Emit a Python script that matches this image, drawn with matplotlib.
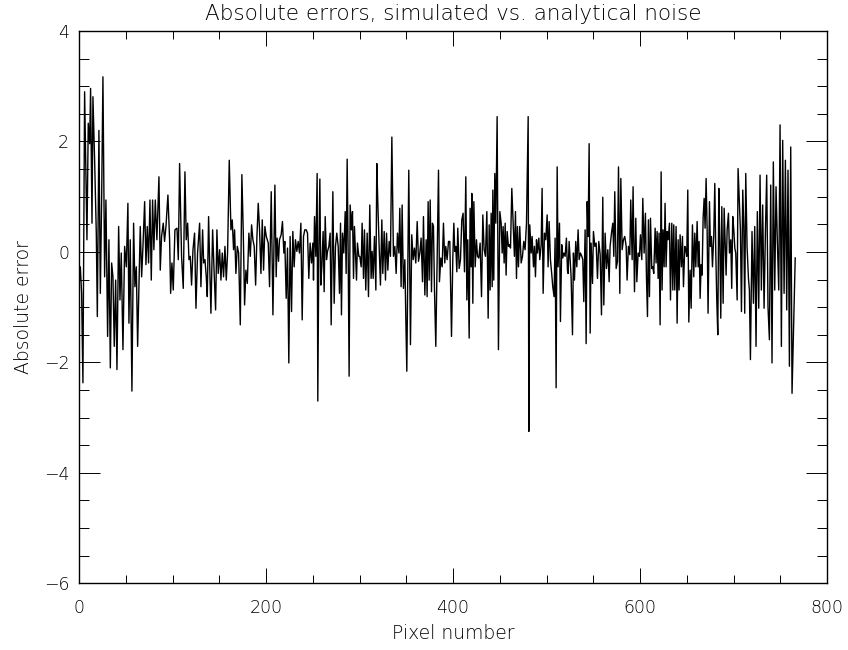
import matplotlib
matplotlib.use("Agg")
import matplotlib.pyplot as plt
from matplotlib.ticker import MultipleLocator

plt.rcParams["font.family"] = ["DejaVu Sans"]
plt.rcParams["font.weight"] = "light"

title = "Absolute errors, simulated vs. analytical noise"
xlabel = "Pixel number"
ylabel = "Absolute error"
xticks = [0, 200, 400, 600, 800]
yticks = [-6, -4, -2, 0, 2, 4]

pixel = [
    0, 1.4, 2.8, 4.2, 6, 8.5, 9.9, 11.4, 12.4, 13.9, 14.9, 16.7, 18.5, 19.6, 21.3, 22.8, 24.2, 25.6,
    27.4, 28.8, 30.6, 32, 33.5, 34.9, 36.3, 37.7, 39.2, 40.6, 42.4, 43.8, 45.2, 47, 48.8, 50.6, 52.3,
    53.4, 54.8, 56.6, 58.4, 59.8, 61.3, 62.7, 64.1, 65.5, 67, 68.4, 70.2, 71.6, 73, 74.4, 75.9, 77.3,
    78.7, 80.1, 81.6, 83.3, 85.5, 86.9, 88.3, 90.1, 91.5, 93, 95.1, 96.9, 98, 99.4, 100.8, 102.6,
    104.8, 106.2, 107.6, 109.7, 111.5, 113.3, 114.7, 116.2, 117.6, 119.0, 120.4, 121.9, 123.6, 125.1,
    126.8, 129.0, 130.4, 132.2, 133.3, 134.7, 136.1, 137.2, 138.6, 140.0, 141.1, 142.9, 144.7, 146.1,
    147.5, 148.9, 150.4, 151.8, 153.2, 154.6, 156.1, 157.5, 158.9, 160.7, 162.5, 163.9, 165.3, 166.4,
    167.8, 169.3, 170.7, 172.5, 174.2, 175.7, 177.1, 178.5, 180.0, 181.7, 183.2, 184.6, 186.0, 187.4,
    188.9, 190.3, 191.7, 193.1, 194.6, 196.0, 197.4, 198.8, 200.3, 202.4, 203.8, 205.6, 207.4,
    209.5, 210.9, 211.9, 213.4, 214.4, 216.2, 217.6, 219.1, 220.1, 221.6, 223.0, 224.4, 225.8, 227.3,
    228.7, 230.1, 231.5, 233.0, 234.4, 235.8, 237.3, 238.7, 240.1, 241.5, 243.0, 244.4, 245.8, 247.2,
    248.7, 250.1, 250.8, 251.9, 253.3, 254.7, 255.4, 256.5, 257.6, 258.6, 259.7, 261.1, 262.2, 263.3,
    264.7, 265.8, 267.2, 268.6, 269.7, 271.5, 272.9, 274.3, 275.7, 277.2, 278.6, 279.7, 280.7, 281.8,
    283.2, 284.7, 285.7, 286.8, 287.9, 288.9, 290.0, 291.4, 292.5, 293.6, 294.6, 295.7, 296.8, 297.8,
    299.3, 300.3, 301.8, 302.8, 304.3, 305.3, 306.7, 308.2, 309.6, 311.0, 312.4,
    313.5, 314.6, 316.0, 317.5, 318.5, 319.6, 321.0, 322.4, 323.9, 324.9, 326.4, 327.8, 328.9, 330.3,
    331.7, 333.1, 334.6, 336.3, 337.8, 339.2, 340.6, 342.1, 343.1, 344.5, 345.6, 347.0, 348.5, 349.5,
    350.6, 352.7, 354.5, 355.9, 357.4, 358.8, 360.2, 361.7, 363.1, 364.5, 365.9, 367.4, 368.4, 369.9,
    371.3, 372.3, 373.4, 374.5, 375.6, 377.0, 378.0, 379.1, 380.2, 381.6, 383.4, 384.5, 385.5, 387.0,
    388.4, 389.8, 391.2, 392.3, 393.7, 395.2, 396.6, 398.4, 399.8, 400.9, 401.9, 403.0, 404.1, 405.1,
    406.6, 408.0, 409.4, 410.8, 412.3, 413.7, 414.8, 415.8, 417.3,
    418.3, 419.4, 420.1, 421.2, 422.3, 423.7, 425.1, 426.2, 427.6, 429.0, 430.5, 431.9, 433.3, 434.7,
    436.2, 437.6, 438.7, 439.7, 440.8, 441.9, 442.6, 443.6, 444.7, 445.8, 447.2, 448.6, 450.1, 451.5,
    452.6, 453.6, 454.7, 455.8, 456.8, 457.9, 459.3, 460.4, 461.5, 462.9, 464.3, 465.7, 466.8, 467.9,
    468.9, 470.0, 471.4, 472.9, 474.3, 475.7, 477.1, 478.6, 480.4, 481.1, 482.1, 483.6, 484.6, 486.1,
    487.1, 488.2, 489.3, 490.3, 491.8, 492.8, 494.3, 495.3, 496.4, 497.8, 499.2, 500.7, 501.7, 502.8,
    504.2, 505.7, 506.7, 508.1, 509.2, 510.3, 511.4, 512.4, 513.9, 514.9, 516.3, 517.4, 518.5, 519.9,
    521.3, 522.4,
    523.1, 524.2, 525.3, 526.3, 527.8, 528.8, 529.9, 531.3, 532.4, 533.8, 534.9, 536.3, 537.8, 538.8,
    539.9, 541.3, 542.4, 543.5, 544.5, 545.6, 546.7, 547.7, 549.2, 550.2, 551.7, 553.1, 554.5, 555.9,
    557.4, 558.8, 560.2, 561.3, 562.7, 564.1, 565.6, 567.0, 568.0, 569.5, 570.9, 572.0, 573.0, 574.5,
    575.9, 577.0, 578.4, 579.5, 580.9, 582.3, 583.7, 585.2, 586.2, 587.6, 589.1, 590.1, 591.6, 592.6,
    594.1, 595.5, 596.6, 598.0, 599.4, 600.5, 601.9, 603.0, 604.4, 605.8, 606.9, 608.0, 609.0, 610.1,
    611.2, 612.6, 613.7, 614.7, 616.2, 617.2, 618.3, 619.4, 620.4, 621.5, 622.6, 623.6, 624.7, 625.8,
    626.8,
    627.9, 629.0, 630.1, 631.5, 632.6, 634.0, 635.1, 636.1, 637.2, 638.6, 639.7, 640.8, 641.8, 642.9,
    644.3, 645.4, 646.5, 647.9, 649.0, 650.0, 651.1, 652.2, 653.6, 654.7, 656.1, 657.5, 658.6, 659.7,
    661.1, 662.2, 663.2, 664.3, 665.4, 666.4, 667.5, 668.6, 669.6, 670.7, 671.8, 672.8, 674.3, 675.3,
    676.4, 677.5, 678.9, 680.0, 681.0, 682.1, 683.2, 684.3, 685.3, 686.4, 687.5, 688.9, 690.0, 691.0,
    692.1, 693.2, 694.6, 695.7, 697.1, 698.1, 699.2, 700.3, 701.4, 702.4, 703.9, 704.9, 706.3, 707.4,
    708.5, 709.9, 711.0, 712.0, 713.1, 714.5, 716.0, 717.0, 718.1,
    719.8, 721.3, 722.7, 724.1, 725.5, 727.0, 728.4, 729.8, 731.2, 732.7, 734.1, 735.5, 736.9, 738.4,
    739.8, 741.2, 742.6, 744.1, 745.5, 746.9, 748.4, 749.8, 751.2, 752.6, 754.1, 755.5, 756.9, 758.3,
    759.8, 761.2, 762.6, 766.0,
]

abs_error = [
    -0.63, -0.27, -0.75, -2.37, 2.90, 0.22, 2.33, 1.96, 2.96, 0.52, 2.81, 1.66, 0.34, -1.17, 2.20, -0.75, 0.94, 3.17,
    -0.45, 0.94, -1.53, 0.22, -2.10, -0.20, -0.45, -1.71, -0.51, -2.13, 0.46, -0.87, -0.02, -1.77, 0.10, -0.27, 0.88,
    -1.29, 0.22, -2.52, 0.52, -0.63, -0.27, -1.71, -0.63, 0.46, -0.45, 0.10, 0.91, -0.23, 0.46, -0.20, 0.94, -0.51,
    0.94, 0.04, 0.94, 0.22, 1.36, -0.33, 0.28, 0.52, 0.19, 0.46, 1.03, 0.22, -0.75, -0.20, -0.69, 0.40,
    0.43, -0.14, 1.60, -0.08, -0.66, 1.45, 0.22, 0.52, -0.14, -0.08, -0.60, 0.04, 0.34, -1.02,
    -0.02, 0.52, -0.63, 0.40, -0.20, -0.14, -0.45, -0.81, 0.64, -0.39, -1.11, 0.40, -0.45, -1.05,
    0.40, -0.39, 0.04, -0.51, -0.02, -0.45, 0.10, -0.51, -0.02, 1.66, 0.40, 0.58, 0.04, 0.40,
    -0.39, 0.10, -0.02, -1.32, 1.40, 0.34, -0.96, -0.33, -0.57, 0.34, -0.08, 0.49, 0.22, 0.10,
    -0.60, 0.28, 0.88, 0.40, -0.39, 0.58, -0.33, 0.46, 0.28, 0.16, -0.63, 1.09, -1.14,
    1.21, -0.45, 0.25, -0.17, 0.22, 0.31, 0.55, -0.02, 0.19, -0.84, 0.07, -2.01, 0.28, -1.08,
    0.37, -0.27, 0.22, 0.01, 0.19, -0.02, 0.52, -1.23, 0.28, 0.40, 0.40, 0.34, -0.48, 0.16,
    -0.20, 0.16, -0.51, 0.64, -0.08, 1.42, -2.70, 0.01, 1.32, -0.60, -0.27, 0.37, -0.72, 0.64,
    -0.14, 0.01, 0.10, 0.34, -1.32, 1.09, -0.93, 0.10, 0.34, 0.10, -0.75, 0.52, -1.14, 0.34,
    -0.02, 0.73, -0.39, 1.68, -0.08, -2.25, 0.85, 0.40, 0.73, -0.48, 0.46, -0.05, -0.51, 0.16,
    -0.08, -0.08, -0.27, 0.52, -0.48, 0.40, -0.69, 0.34, -0.81, 0.85, -0.48,
    0.01, -0.48, 0.28, -0.69, 1.60, 0.88, 0.10, -0.60, 0.58, -0.39, 0.37, -0.51, 0.34, -0.33,
    0.19, -0.08, 2.08, -0.08, 0.10, -0.39, 0.34, -0.02, 0.79, -0.63, 0.85, -0.66, -0.14, -1.17,
    -2.16, 1.48, -1.68, 0.31, -0.14, 0.07, -0.20, 0.55, -0.17, -0.02, 0.25, -0.54, 0.64, -0.78,
    0.22, -0.81, 0.91, -0.51, 0.94, -0.72, 0.52, 0.46, -0.69, -1.71, 0.22, 1.48, -0.54, -0.11,
    -0.27, 0.52, -0.20, 0.10, -0.14, 0.19, 0.19, -1.53, -0.11, 0.52, 0.01, 0.10, -0.36, 0.43,
    -0.30, -0.14, 0.58, 0.70, -0.36, 1.36, -0.87, 0.22, -1.56,
    0.79, -0.27, 1.06, -0.93, 0.91, -0.27, 0.22, -0.08, -0.11, 0.16, -0.81, 0.67, 0.04, -0.08,
    0.73, -1.20, 0.49, -0.69, 0.70, -0.63, 1.12, -0.51, 1.42, 0.52, 2.45, -1.77, 0.73, 0.52,
    -0.02, 0.46, -0.20, 0.52, -0.42, 0.37, 0.10, 0.13, 0.07, 1.15, 0.52, -0.08, 0.73, -0.48,
    0.46, -0.27, 0.46, -0.20, -0.08, 0.19, 0.04, 0.52, 2.45, -3.25, 0.49, -0.02, 0.28, -0.27,
    0.10, -0.45, 0.22, -0.02, 0.25, -0.14, 0.13, 1.15, -0.75, 0.34, 0.22, 0.67, -0.27, 0.55,
    -0.14, -0.42, -0.63, -0.81, 0.25, -2.46, 1.54, -0.27, 0.52, -1.26, 0.13, -0.11, -0.02, -0.08,
    0.25, -0.33,
    -0.39, 0.19, -0.14, -0.45, -1.50, -0.02, -0.51, 0.19, -0.27, 0.40, -0.14, -0.02, -0.08, -0.14,
    -0.90, 0.40, -1.66, 0.91, 0.28, 1.96, -1.47, 0.16, -0.57, 0.37, 0.10, 0.16, -0.48, 0.19,
    -0.05, -1.14, 0.99, -0.96, 0.34, -0.30, 0.04, -0.54, 0.10, 0.34, 0.52, -0.08, 1.09, -0.30,
    -0.17, 1.54, -0.75, 1.33, 0.04, 0.22, 0.28, 0.10, -0.51, 0.10, -0.05, 0.94, -0.14, 1.18,
    -0.72, 0.61, -0.54, -0.02, -0.08, 0.31, -0.14, 0.97, -0.02, 0.70, -0.45, -1.17, 0.58, -0.81,
    0.61, -0.30, -0.27, -0.39, 0.43, -0.20, 0.37, -0.48, 0.34, -1.32, 1.45, -0.69, 0.40, -0.27,
    0.88,
    -0.27, 0.37, 0.22, 0.52, -0.87, 0.52, -0.69, 0.49, -0.69, 0.46, -1.29, 0.22, -0.69, 0.31,
    -0.27, 0.28, -0.63, 0.10, 0.04, -0.08, 1.12, -1.27, -0.33, -1.02, 0.49, -0.45, 0.34, -0.27,
    0.55, -0.27, 0.19, -0.84, -0.23, -0.42, 0.61, 0.97, 0.43, 1.33, 0.40, -1.11, 0.91, 0.10,
    0.28, -0.27, 0.31, 1.24, 0.04, -0.87, -1.50, 1.15, 0.25, -1.20, 0.82, -0.93, 0.79, 0.19,
    -0.42, 0.40, 0.70, -0.02, 0.22, -0.66, 0.64, 0.40, 0.07, -0.02, -0.87, 1.51, 0.88, 0.40,
    -1.08, 1.12, 0.46, -1.11, 1.42, 0.10, -0.48, -0.69, -1.95,
    0.37, -0.93, 0.46, -1.71, 0.73, -1.02, 1.39, -0.69, 0.85, -1.02, 0.34, 1.39, -0.99, -1.59,
    1.21, -2.01, 1.63, -0.69, 1.18, 0.19, -0.69, 2.30, -1.71, 2.02, -0.75, 1.66, -1.05, 1.48,
    -2.07, 1.90, -2.56, -0.11,
]

fig = plt.figure(figsize=(8.48, 6.5), dpi=100)
ax = fig.add_axes([79 / 848, 1 - 583.3 / 650, (827 - 79) / 848, (583.3 - 31) / 650])

ax.plot(pixel, abs_error, color="black", linewidth=1.0)

ax.set_xlim(0, 800)
ax.set_ylim(-6, 4)
ax.set_xticks(xticks)
ax.set_yticks(yticks)
ax.xaxis.set_minor_locator(MultipleLocator(50))
ax.yaxis.set_minor_locator(MultipleLocator(0.5))

ax.tick_params(axis="x", which="major", direction="in", top=True, bottom=True,
               length=11, width=0.7, pad=11, labelsize=12.5, labelcolor="black")
ax.tick_params(axis="x", which="minor", direction="in", top=True, bottom=True,
               length=5.5, width=0.7)
ax.tick_params(axis="y", which="major", direction="in", left=True, right=True,
               length=15, width=0.7, pad=7, labelsize=12.5, labelcolor="black")
ax.tick_params(axis="y", which="minor", direction="in", left=True, right=True,
               length=7.5, width=0.7)
for s in ax.spines.values():
    s.set_linewidth(1.0)

ax.set_xlabel(xlabel, fontsize=13.5, labelpad=5, fontweight="light")
ax.set_ylabel(ylabel, fontsize=13.5, labelpad=8, fontweight="light")
ax.set_title(title, fontsize=15.5, pad=8, fontweight="light")

fig.savefig("out.png", dpi=100)
